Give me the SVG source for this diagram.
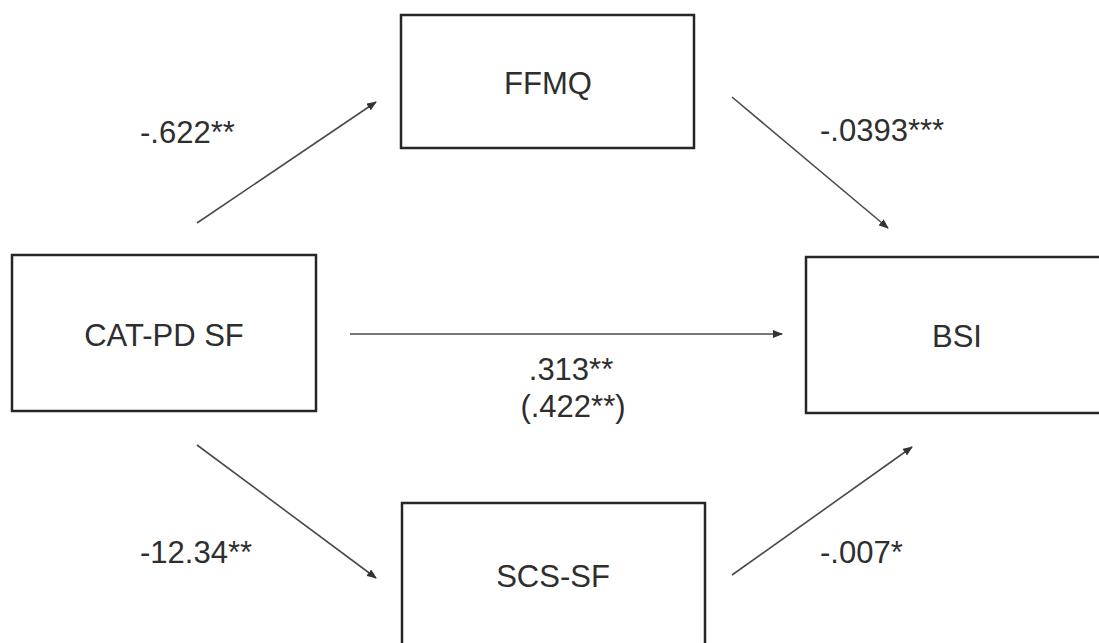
<svg xmlns="http://www.w3.org/2000/svg" width="1099" height="643" viewBox="0 0 1099 643">
<style>
.box{fill:#fff;stroke:#262626;stroke-width:2.5}
.lbl{font-family:"Liberation Sans",Arial,sans-serif;font-size:31px;fill:#2e2e2e}
.mid{text-anchor:middle}
.edge{stroke:#4a4a4a;stroke-width:1.6;fill:none;marker-end:url(#ah)}
</style>
<defs>
<marker id="ah" viewBox="0 0 10 8" refX="9" refY="4" markerWidth="10" markerHeight="8" markerUnits="userSpaceOnUse" orient="auto">
<path d="M0,0 L10,4 L0,8 z" fill="#333"/>
</marker>
</defs>
<rect width="1099" height="643" fill="#fff"/>
<g id="connectors">
<line class="edge" x1="197" y1="223" x2="376" y2="102"/>
<line class="edge" x1="732" y1="97" x2="888" y2="228"/>
<line class="edge" x1="197" y1="445" x2="376" y2="578"/>
<line class="edge" x1="732" y1="575" x2="912" y2="447"/>
<line class="edge" x1="350" y1="334" x2="782" y2="334"/>
</g>
<g id="node-catpd">
<rect class="box" x="12" y="255" width="304" height="156"/>
<text class="lbl mid" x="164" y="346">CAT-PD SF</text>
</g>
<g id="node-ffmq">
<rect class="box" x="401" y="15" width="293" height="133"/>
<text class="lbl mid" x="548" y="94">FFMQ</text>
</g>
<g id="node-scssf">
<rect class="box" x="402" y="503" width="303" height="170"/>
<text class="lbl mid" x="553" y="587">SCS-SF</text>
</g>
<g id="node-bsi">
<rect class="box" x="806" y="257" width="330" height="156"/>
<text class="lbl mid" x="957" y="347">BSI</text>
</g>
<g id="edge-labels">
<text class="lbl" x="140" y="143">-.622**</text>
<text class="lbl" x="820" y="141">-.0393***</text>
<text class="lbl" x="140" y="563">-12.34**</text>
<text class="lbl" x="820" y="563">-.007*</text>
<text class="lbl mid" x="571" y="380">.313**</text>
<text class="lbl mid" x="573" y="417">(.422**)</text>
</g>
</svg>
